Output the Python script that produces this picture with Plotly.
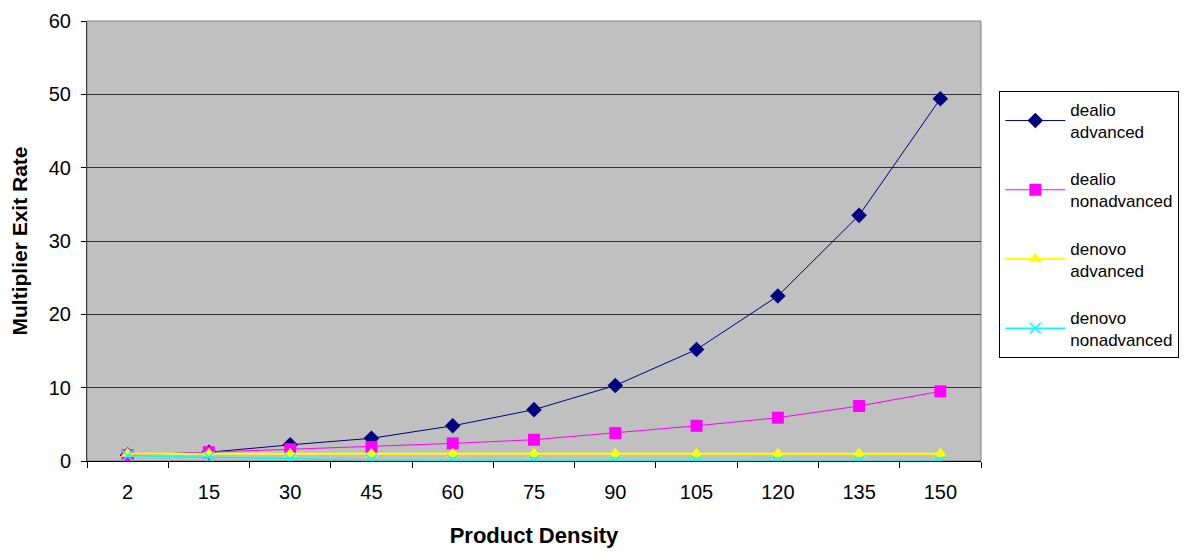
import plotly.graph_objects as go

categories = ["2", "15", "30", "45", "60", "75", "90", "105", "120", "135", "150"]
dealio_adv = [0.8, 1.2, 2.2, 3.1, 4.8, 7.0, 10.3, 15.2, 22.5, 33.5, 49.4]
dealio_nonadv = [0.8, 1.2, 1.6, 1.9, 2.4, 2.9, 3.8, 4.8, 5.9, 7.5, 9.5]
denovo_adv = [1.0, 1.0, 1.0, 1.0, 1.0, 1.0, 1.0, 1.0, 1.0, 1.0, 1.0]
denovo_nonadv = [0.7, 0.5, 0.25, 0.15, 0.1, 0.05, 0.03, 0.02, 0.01, 0.01, 0.0]

fig = go.Figure()
fig.add_trace(go.Scatter(x=categories, y=dealio_adv, name="dealio<br>advanced", legendgroup="a",
                         mode="lines+markers", line=dict(color="#000080", width=1),
                         marker=dict(symbol="diamond", size=12, color="#000080")))
fig.add_trace(go.Scatter(x=categories, y=dealio_nonadv, name="dealio<br>nonadvanced", legendgroup="b",
                         mode="lines+markers", line=dict(color="#FF00FF", width=1),
                         marker=dict(symbol="square", size=12, color="#FF00FF")))
fig.add_trace(go.Scatter(x=categories, y=denovo_adv, name="denovo<br>advanced", legendgroup="c",
                         mode="lines+markers", line=dict(color="#FFFF00", width=2),
                         marker=dict(symbol="triangle-up", size=12, color="#FFFF00")))
fig.add_trace(go.Scatter(x=categories, y=denovo_nonadv, name="denovo<br>nonadvanced", legendgroup="d",
                         mode="lines+markers", line=dict(color="#00FFFF", width=1.5),
                         marker=dict(symbol="x-thin", size=11, line=dict(color="#00FFFF", width=1.5))))

fig.update_layout(
    width=1185, height=544,
    margin=dict(l=79, r=212, t=13, b=91),
    paper_bgcolor="white", plot_bgcolor="#C0C0C0",
    font=dict(family="Liberation Sans, Arial, sans-serif", size=20, color="black"),
    legend=dict(x=1.0205, y=0.841, xanchor="left", yanchor="top",
                bgcolor="white", bordercolor="black", borderwidth=1,
                font=dict(size=17), tracegroupgap=22, itemwidth=60),
    xaxis=dict(type="category", range=[-0.5, 10.5], tickson="boundaries",
               ticks="outside", ticklen=6, tickcolor="black", showgrid=False,
               ticklabelstandoff=13, automargin=False,
               showline=True, linecolor="black", linewidth=1, mirror=False,
               title=dict(text="<b>Product Density</b>", font=dict(size=22), standoff=25)),
    yaxis=dict(range=[0, 60], dtick=10, ticks="outside", ticklen=5, tickcolor="black",
               ticklabelstandoff=6, automargin=False,
               showgrid=True, gridcolor="#333333", gridwidth=1, zeroline=False,
               showline=True, linecolor="#404040", linewidth=1,
               title=dict(text="<b>Multiplier Exit Rate</b>", font=dict(size=21), standoff=17)),
)
fig.add_shape(type="rect", xref="paper", yref="paper", x0=0, y0=0, x1=1, y1=1,
              line=dict(color="#808080", width=1), layer="below")
fig.write_html("out.html")
